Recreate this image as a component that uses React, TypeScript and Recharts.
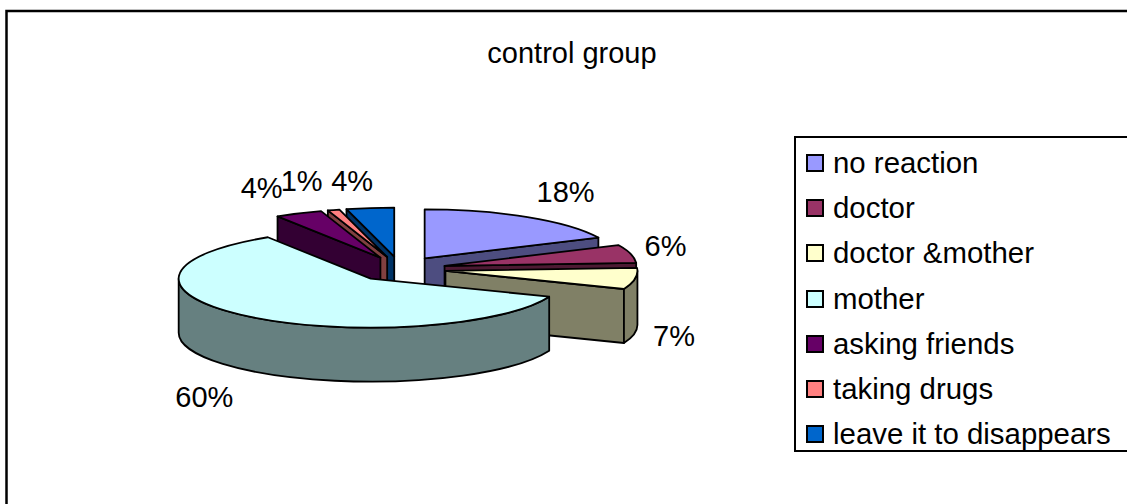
import React from "react";
import { PieChart, Pie, Legend } from "recharts";

const categories = [
  "no reaction",
  "doctor",
  "doctor &mother",
  "mother",
  "asking friends",
  "taking drugs",
  "leave it to disappears",
];
const shares = [18, 6, 7, 60, 4, 1, 4];
const topColors = ["#9999ff", "#993366", "#ffffcc", "#ccffff", "#660066", "#ff8080", "#0066cc"];
const sideColors = ["#4d4d80", "#4d1a33", "#808066", "#668080", "#330033", "#804040", "#003366"];
// Label shift from the rim point of each slice, in px.
const labelShiftX = [38, 35, 39, -44, -37, -32, -18];
const labelShiftY = [-26, -8, 57, 80, -26, -29, -27];
// Painter's order for the tilted disc: far slices first, the big front slice last.
const drawOrder = [6, 5, 4, 0, 1, 2, 3];

const slices = categories.map((name, i) => ({
  name,
  value: shares[i],
  fill: topColors[i],
  side: sideColors[i],
  shiftX: labelShiftX[i],
  shiftY: labelShiftY[i],
}));

const FONT = '"Liberation Sans", Arial, sans-serif';
const FONT_SIZE = 29;
const LEGEND_FONT_SIZE = 29.4;
const CENTER_X = 400;
const CENTER_Y = 269;
const RADIUS_X = 192;
const RADIUS_Y = 49;
const DEPTH = 54;
const EXPLODE_X = 46;
const EXPLODE_Y = 12.5;

const rad = (deg: number) => (deg * Math.PI) / 180;

// Recharts gives counter-clockwise degrees from 3 o'clock; the tilted disc
// below works in clockwise degrees from 12 o'clock.
const fromTop = (deg: number) => 90 - deg;

function rim(cx: number, cy: number, a: number) {
  return { x: cx + RADIUS_X * Math.sin(rad(a)), y: cy - RADIUS_Y * Math.cos(rad(a)) };
}

function arc(cx: number, cy: number, from: number, to: number, dy: number, back = false) {
  const p = rim(cx, cy + dy, back ? from : to);
  const large = to - from > 180 ? 1 : 0;
  return `A ${RADIUS_X} ${RADIUS_Y} 0 ${large} ${back ? 0 : 1} ${p.x} ${p.y}`;
}

function Slice3D(props: any) {
  const { cx: baseX, cy: baseY, startAngle, endAngle, fill, payload } = props;
  const start = fromTop(startAngle);
  const end = fromTop(endAngle);
  const mid = (start + end) / 2;
  const cx = baseX + EXPLODE_X * Math.sin(rad(mid));
  const cy = baseY - EXPLODE_Y * Math.cos(rad(mid));
  const side = payload?.side ?? props.side;

  const edge = (a: number) => {
    const p = rim(cx, cy, a);
    return `M ${cx} ${cy} L ${p.x} ${p.y} L ${p.x} ${p.y + DEPTH} L ${cx} ${cy + DEPTH} Z`;
  };
  const wallFrom = Math.max(start, 90);
  const wallTo = Math.min(end, 270);
  const s = rim(cx, cy, start);
  const stroke = { stroke: "#000", strokeWidth: 1.8, strokeLinejoin: "round" as const };

  return (
    <g>
      {end < 180 && <path d={edge(end)} fill={side} {...stroke} />}
      {start >= 180 && <path d={edge(start)} fill={side} {...stroke} />}
      {wallTo > wallFrom && (
        <path
          d={`M ${rim(cx, cy, wallFrom).x} ${rim(cx, cy, wallFrom).y} ${arc(cx, cy, wallFrom, wallTo, 0)} L ${
            rim(cx, cy, wallTo).x
          } ${rim(cx, cy, wallTo).y + DEPTH} ${arc(cx, cy, wallFrom, wallTo, DEPTH, true)} Z`}
          fill={side}
          {...stroke}
        />
      )}
      <path
        d={`M ${cx} ${cy} L ${s.x} ${s.y} ${arc(cx, cy, start, end, 0)} Z`}
        fill={fill}
        {...stroke}
      />
    </g>
  );
}

function PercentLabel(props: any) {
  const { midAngle, percent, payload, index } = props;
  const a = fromTop(midAngle);
  const shiftX = payload?.shiftX ?? labelShiftX[index];
  const shiftY = payload?.shiftY ?? labelShiftY[index];
  const x = CENTER_X + (RADIUS_X + EXPLODE_X) * Math.sin(rad(a)) + shiftX;
  const y = CENTER_Y - (RADIUS_Y + EXPLODE_Y) * Math.cos(rad(a)) + shiftY;
  return (
    <text
      x={x}
      y={y}
      dy="0.36em"
      textAnchor="middle"
      fontFamily={FONT}
      fontSize={FONT_SIZE}
      fill="#000"
    >
      {`${Math.round(percent * 100)}%`}
    </text>
  );
}

function LegendBox({ payload }: any) {
  // Every layer of the disc reports its items, so keep one entry per category.
  const entries = categories.map((name) => (payload ?? []).find((e: any) => e.value === name)).filter(Boolean);
  return (
    <div
      style={{
        boxSizing: "border-box",
        width: 360,
        height: 316,
        border: "2px solid #000",
        background: "#fff",
        paddingTop: 2,
        fontFamily: FONT,
        fontSize: LEGEND_FONT_SIZE,
        color: "#000",
      }}
    >
      {entries.map((entry: any) => (
        <div key={entry.value} style={{ display: "flex", alignItems: "center", height: 45.3 }}>
          <span
            style={{
              boxSizing: "border-box",
              width: 18,
              height: 18,
              marginLeft: 10,
              marginRight: 9,
              border: "2px solid #000",
              background: entry.color,
            }}
          />
          <span style={{ whiteSpace: "nowrap" }}>{entry.value}</span>
        </div>
      ))}
    </div>
  );
}

export default function App() {
  return (
    <div
      style={{
        position: "fixed",
        left: 0,
        top: 0,
        width: 1127,
        height: 504,
        overflow: "hidden",
        background: "#fff",
      }}
    >
      <PieChart width={1127} height={504} margin={{ top: 0, right: 0, bottom: 0, left: 0 }}>
        <rect x={6.5} y={11} width={1300} height={700} fill="#fff" stroke="#000" strokeWidth={2.5} />
        <text
          x={572}
          y={53}
          dy="0.36em"
          textAnchor="middle"
          fontFamily={FONT}
          fontSize={FONT_SIZE}
          fill="#000"
        >
          control group
        </text>
        {drawOrder.map((sliceIndex, layer) => (
          <Pie
            key={sliceIndex}
            data={slices}
            dataKey="value"
            nameKey="name"
            cx={CENTER_X}
            cy={CENTER_Y}
            outerRadius={RADIUS_X}
            startAngle={90}
            endAngle={-270}
            shape={(props: any) => (props.index === sliceIndex ? <Slice3D {...props} /> : <g />)}
            label={layer === drawOrder.length - 1 ? PercentLabel : false}
            labelLine={false}
            isAnimationActive={false}
            stroke="none"
          />
        ))}
        <Legend
          content={LegendBox}
          itemSorter={null}
          wrapperStyle={{ position: "absolute", left: 794, top: 136, width: 360, height: 316, bottom: "auto", right: "auto" }}
        />
      </PieChart>
    </div>
  );
}
